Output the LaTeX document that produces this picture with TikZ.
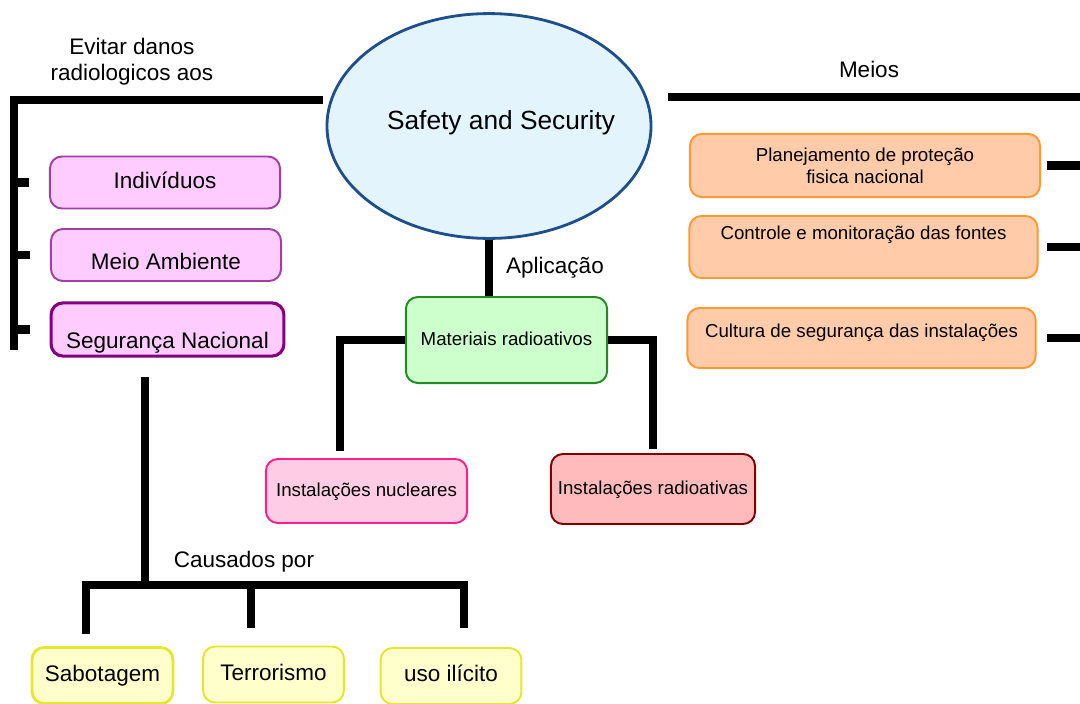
\documentclass[tikz,border=0pt]{standalone}
\usepackage{fontspec}
\setmainfont{Liberation Sans}
\usetikzlibrary{positioning,shapes.geometric}

\definecolor{elfill}{HTML}{E4F4FC}
\definecolor{elline}{HTML}{1F4E8C}
\definecolor{pkfill}{HTML}{FFCCFF}
\definecolor{pkline}{HTML}{A040A0}
\definecolor{pkdark}{HTML}{800080}
\definecolor{orfill}{HTML}{FFCBA8}
\definecolor{orline}{HTML}{FF9933}
\definecolor{grfill}{HTML}{CCFFCC}
\definecolor{grline}{HTML}{228B22}
\definecolor{nufill}{HTML}{FFCCE5}
\definecolor{nuline}{HTML}{FF2090}
\definecolor{rdfill}{HTML}{FFBBBB}
\definecolor{rdline}{HTML}{800000}
\definecolor{yefill}{HTML}{FFFFCC}
\definecolor{yeline}{HTML}{E6E62E}

\begin{document}
\begin{tikzpicture}[
    x=0.025cm, y=-0.025cm,
    big/.style={font=\fontsize{16}{18.5}\selectfont},
    small/.style={font=\fontsize{13.3}{15.6}\selectfont},
    bar/.style={line width=5.7pt},
    box/.style={draw, rounded corners=8.5pt, line width=1.4pt, inner sep=0pt,
        align=center, text height=11.5pt, text depth=3.5pt},
    pink/.style={box, big, fill=pkfill, draw=pkline, minimum width=5.75cm, minimum height=1.3cm},
    peach/.style={box, small, fill=orfill, draw=orline, minimum width=8.7cm, minimum height=1.55cm},
    yellow/.style={box, big, fill=yefill, draw=yeline, minimum width=3.52cm, minimum height=1.4cm}
]
    \useasboundingbox (0,0) rectangle (1080,704);

    % centro
    \node[ellipse, draw=elline, line width=2pt, fill=elfill, inner sep=0pt,
        minimum width=8.1cm, minimum height=5.62cm, text height=13.6pt, text depth=8.8pt,
        font=\fontsize{18.7}{22}\selectfont] (ss) at (489,126)
        {\hspace*{8.5pt}\makebox[153.5pt][l]{Safety and Security}};

    % esquerda
    \node[big, align=center] (evit) at (132,62) {Evitar danos\\radiologicos aos};
    \node[pink] (ind) at (165,182.5) {Indivíduos};
    \node[pink, text height=20.6pt, text depth=0pt] (amb) at (166,255) {Meio Ambiente};
    \node[pink, draw=pkdark, line width=2.2pt, minimum width=5.82cm, minimum height=1.33cm,
        text height=29.9pt] (seg) at (167.5,329.5) {Segurança Nacional};

    % direita
    \node[big] (meios) at (869,69) {Meios};
    \node[peach, text height=, text depth=, minimum width=8.75cm, minimum height=1.58cm]
        (pf) at (865,165.5) {Planejamento de proteção\\fisica nacional};
    \node[peach, text height=10pt, text depth=20.9pt] (cm) at (863.5,247) {Controle e monitoração das fontes};
    \node[peach, text height=10pt, text depth=10.5pt, minimum height=1.5cm]
        (cult) at (861.5,338) {Cultura de segurança das instalações};

    % meio
    \node[big] (apl) at (555,268) {Aplicação};
    \node[box, small, fill=grfill, draw=grline, minimum width=5.03cm, minimum height=2.15cm]
        (mat) at (506.5,340) {Materiais radioativos};
    \node[box, small, fill=nufill, draw=nuline, minimum width=5.03cm, minimum height=1.6cm]
        (nuc) at (366.5,491) {Instalações nucleares};
    \node[box, small, fill=rdfill, draw=rdline, minimum width=5.1cm, minimum height=1.75cm]
        (rad) at (653,489) {Instalações radioativas};

    % baixo
    \node[big] (caus) at (244,562) {Causados por};
    \node[yellow, line width=2pt] (sab) at (102.5,675.5) {Sabotagem};
    \node[yellow] (ter) at (273.5,674.5) {Terrorismo};
    \node[yellow] (uso) at (451,676) {uso ilícito};

    \coordinate (ls) at (323,100);
    \coordinate (lt) at (14,100);
    \coordinate (lb) at (14,350);
    \coordinate (rs) at (668,97);
    \coordinate (rk) at (1047,97);
    \coordinate (rt) at (1080,97);
    \coordinate (sd) at (145,377);
    \coordinate (cj) at (145,585);

    \draw[bar] (ls) -- (lt) -- (lb);
    \foreach \n in {ind,amb,seg}
        \draw[bar] (lt |- \n.west) -- ([xshift=-14pt]\n.west);

    \draw[bar] (rs) -- (rt);
    \foreach \n in {pf,cm,cult}
        \draw[bar] (rk |- \n.east) -- (rt |- \n.east);

    \draw[bar] (ss.south) -- (ss.south |- mat.north);
    \draw[bar] (mat.west) -| ([xshift=-19pt,yshift=5pt]nuc.north);
    \draw[bar] (mat.east) -| ([yshift=3pt]rad.north);

    \draw[bar] (sd) -- (cj);
    \draw[bar] ([xshift=-11.7pt,yshift=8.5pt]sab.north) |- (cj) -| ([xshift=9.2pt,yshift=13.5pt]uso.north);
    \draw[bar] ([xshift=-16pt,yshift=12.8pt]ter.north) -- ++(0,-44);
\end{tikzpicture}
\end{document}
